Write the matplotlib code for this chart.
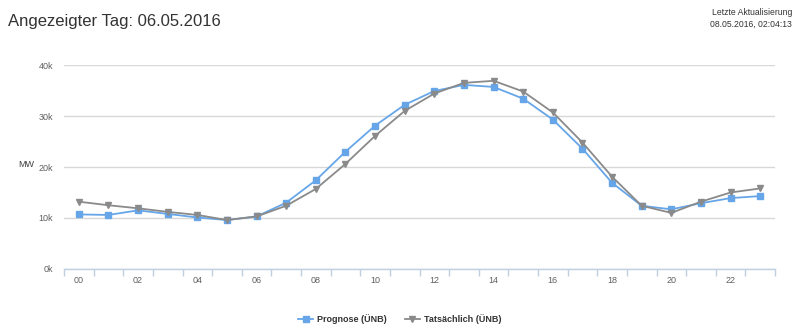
import matplotlib
matplotlib.use('Agg')
import matplotlib.pyplot as plt
from matplotlib.ticker import FuncFormatter
import numpy as np

plt.rcParams['font.family'] = ['Liberation Sans', 'DejaVu Sans']

# Stunden des Tages und Last in MW
hours = ["%02d" % h for h in range(24)]
prognose = [10700, 10600, 11500, 10800, 10100, 9600, 10300, 13000,
            17400, 23000, 28100, 32200, 34900, 36100, 35700, 33400,
            29300, 23600, 16900, 12400, 11700, 12900, 13900, 14300]
tatsaechlich = [13200, 12500, 11900, 11200, 10600, 9600, 10300, 12400,
                15700, 20600, 26100, 31000, 34400, 36500, 36900, 34800,
                30700, 24800, 18100, 12400, 11000, 13200, 15000, 15800]
y_ticks = [0, 10000, 20000, 30000, 40000]

blue = '#66a6e8'
grey = '#8a8a8a'
axis_col = '#c0d0e0'
label_col = '#606060'

fig = plt.figure(figsize=(8, 3.29), dpi=100)
ax = fig.add_axes([0.08, 0.1824, 0.88875, 0.62])

x = np.arange(len(hours))
l1, = ax.plot(x, prognose, color=blue, lw=1.3, marker='s', ms=5,
              mec=blue, mfc=blue, label='Prognose (ÜNB)', zorder=3)
l2, = ax.plot(x, tatsaechlich, color=grey, lw=1.3, marker='v', ms=5,
              mec=grey, mfc=grey, label='Tatsächlich (ÜNB)', zorder=3)

ax.set_xlim(-0.5, len(hours) - 0.5)
ax.set_ylim(0, 40000)
ax.set_yticks(y_ticks)
ax.yaxis.set_major_formatter(FuncFormatter(lambda v, p: '%dk' % (v / 1000)))
ax.grid(axis='y', color='#d8d8d8', lw=1)
ax.set_axisbelow(True)

# Kategorie-Achse: Striche zwischen den Stunden, Beschriftung jede 2. Stunde
ax.set_xticks(np.arange(-0.5, len(hours), 1.0))
ax.set_xticklabels([])
ax.set_xticks(x[::2], minor=True)
ax.set_xticklabels(hours[::2], minor=True)
ax.tick_params(axis='x', which='major', length=5, color=axis_col, width=1)
ax.tick_params(axis='x', which='minor', length=0, labelsize=6.5,
               labelcolor=label_col, pad=5)
ax.tick_params(axis='y', length=0, labelsize=6.5, labelcolor=label_col, pad=8)

for s in ['top', 'right', 'left']:
    ax.spines[s].set_visible(False)
ax.spines['bottom'].set_color(axis_col)
ax.spines['bottom'].set_linewidth(1)

fig.text(0.0225, 0.5, 'MW', fontsize=6.5, color='#404040', va='center')

fig.text(0.01, 0.935, 'Angezeigter Tag: 06.05.2016', fontsize=12,
         color='#333333', va='center')
fig.text(0.99, 0.962, 'Letzte Aktualisierung', fontsize=6.2,
         color='#333333', ha='right', va='center')
fig.text(0.99, 0.927, '08.05.2016, 02:04:13', fontsize=6.2,
         color='#333333', ha='right', va='center')

leg = fig.legend(handles=[l1, l2], loc='center', bbox_to_anchor=(0.5, 0.03),
                 ncol=2, frameon=False, handlelength=1.6,
                 columnspacing=2.0, handletextpad=0.5,
                 prop={'weight': 'bold', 'size': 6.5})
for t in leg.get_texts():
    t.set_color('#333333')

fig.savefig('out.png', dpi=100)
